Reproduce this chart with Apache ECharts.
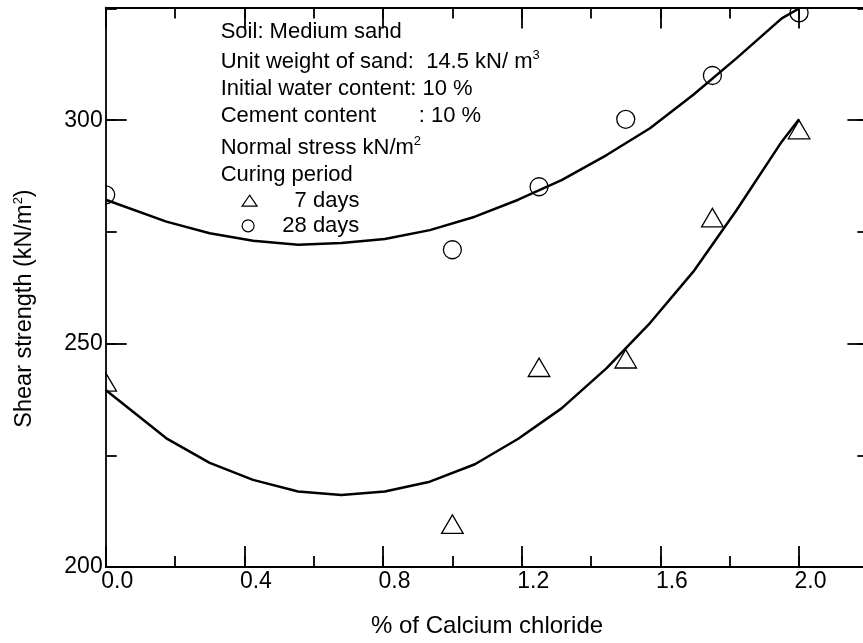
<!DOCTYPE html>
<html>
<head>
<meta charset="utf-8">
<script src="https://cdn.jsdelivr.net/npm/echarts@6/dist/echarts.min.js"></script>
<style>
  html, body { margin: 0; padding: 0; background: #fff; }
  #chart { width: 863px; height: 643px; }
</style>
</head>
<body>
<div id="chart"></div>
<script>
// Measured points: % calcium chloride vs shear strength (kN/m2)
const calciumChloride = [0, 1.0, 1.25, 1.5, 1.75, 2.0];
const strength7Days  = [241.4, 209.6, 244.7, 246.6, 278.2, 297.9];
const strength28Days = [283.3, 271.0, 285.1, 300.2, 310.0, 324.0];

// Fitted trend curves, sampled along the x axis
const fitX       = [0, 0.175, 0.3, 0.425, 0.555, 0.68, 0.805, 0.935, 1.065, 1.19, 1.315, 1.445, 1.57, 1.695, 1.82, 1.95, 2.0];
const fit7Days   = [239.6, 228.8, 223.3, 219.5, 216.9, 216.1, 216.9, 219.1, 223.0, 228.7, 235.5, 244.5, 254.6, 266.1, 279.9, 295.2, 300.2];
const fit28Days  = [282.2, 277.3, 274.7, 273.0, 272.1, 272.5, 273.4, 275.4, 278.4, 282.2, 286.6, 292.2, 298.2, 305.7, 313.9, 322.8, 325.0];

// Tick labels
const xTickLabels = ['0.0', '0.4', '0.8', '1.2', '1.6', '2.0'];
const yTickLabels = ['200', '250', '300'];

// Test conditions note
const noteLines = [
  'Soil: Medium sand',
  'Unit weight of sand:  14.5 kN/ m{sup|3}',
  'Initial water content: 10 %',
  'Cement content       : 10 %',
  'Normal stress kN/m{sup|2}',
  'Curing period'
];

const FONT = 'Liberation Sans, Arial, Helvetica, sans-serif';
const X_MIN = 0, X_MAX = 2.2, Y_MIN = 200, Y_MAX = 325.2;

const axisColor = '#000';
const majorTick = { show: true, inside: true, length: 21, lineStyle: { color: axisColor, width: 1.8 } };
const minorTick = { show: true, inside: true, length: 11, lineStyle: { color: axisColor, width: 1.8 } };
const lineOn = { show: true, onZero: false, lineStyle: { color: axisColor, width: 1.8 } };
const lineOff = { show: false, onZero: false };

function xAx(position, interval, tick, line, label, extra) {
  return Object.assign({
    type: 'value', position, min: X_MIN, max: X_MAX, interval,
    axisLine: line, axisTick: tick, splitLine: { show: false },
    axisLabel: label || { show: false }
  }, extra || {});
}
function yAx(position, interval, tick, line, label, extra) {
  return Object.assign({
    type: 'value', position, min: Y_MIN, max: Y_MAX, interval,
    axisLine: line, axisTick: tick, splitLine: { show: false },
    axisLabel: label || { show: false }
  }, extra || {});
}

const xLabel = {
  show: true, color: '#000', fontSize: 23, fontFamily: FONT, margin: 3,
  padding: [0, 0, 0, 23],
  formatter: v => { const s = v.toFixed(1); return xTickLabels.includes(s) ? s : ''; }
};
const yLabel = {
  show: true, color: '#000', fontSize: 23, fontFamily: FONT, margin: 3,
  padding: [0, 0, 5, 0],
  formatter: v => { const s = String(v); return yTickLabels.includes(s) ? s : ''; }
};

function triangleItem(params, api) {
  const p = api.coord([api.value(0), api.value(1)]);
  return {
    type: 'polygon',
    shape: { points: [[p[0], p[1] - 9.2], [p[0] - 10.8, p[1] + 9.2], [p[0] + 10.8, p[1] + 9.2]] },
    style: { fill: 'none', stroke: '#000', lineWidth: 1.3 }
  };
}
function circleItem(params, api) {
  const p = api.coord([api.value(0), api.value(1)]);
  return {
    type: 'circle',
    shape: { cx: p[0], cy: p[1], r: 9 },
    style: { fill: 'none', stroke: '#000', lineWidth: 1.3 }
  };
}

const noteY = [32, 61.5, 88.5, 115.5, 148, 174.5];
const noteGraphics = noteLines.map((t, i) => ({
  type: 'text', x: 220.7, y: noteY[i], silent: true,
  style: {
    text: t, fill: '#000', fontSize: 22, fontFamily: FONT, lineHeight: 26,
    align: 'left', verticalAlign: 'middle',
    rich: { sup: { fontSize: 13, fontFamily: FONT, lineHeight: 13, verticalAlign: 'top', fill: '#000' } }
  }
}));

const legendText = (pad) => ({ color: '#000', fontSize: 22, fontFamily: FONT, padding: [0, 0, 0, pad] });
const legendItemStyle = { color: 'transparent', borderColor: '#000', borderWidth: 1.2 };

const chart = echarts.init(document.getElementById('chart'), null, { renderer: 'canvas' });
chart.setOption({
  backgroundColor: '#fff',
  animation: false,
  grid: { left: 105.7, top: 7.6, width: 762.7, height: 559.4, containLabel: false, outerBoundsMode: 'none' },
  xAxis: [
    xAx('bottom', 0.4, majorTick, lineOn, xLabel, {
      name: '% of Calcium chloride', nameLocation: 'middle', nameGap: 47,
      nameTextStyle: { color: '#000', fontSize: 24, fontFamily: FONT }
    }),
    xAx('bottom', 0.2, minorTick, lineOff),
    xAx('top', 0.4, majorTick, lineOn),
    xAx('top', 0.2, minorTick, lineOff)
  ],
  yAxis: [
    yAx('left', 50, majorTick, lineOn, yLabel),
    yAx('left', 25, minorTick, lineOff),
    yAx('right', 50, majorTick, lineOn),
    yAx('right', 25, minorTick, lineOff)
  ],
  legend: [
    {
      data: [{ name: '7 days', icon: 'triangle' }],
      left: 241.5, top: 189.7, padding: 0, orient: 'vertical',
      itemWidth: 15, itemHeight: 11, selectedMode: false,
      itemStyle: legendItemStyle, textStyle: legendText(32.5)
    },
    {
      data: [{ name: '28 days', icon: 'circle' }],
      left: 241.5, top: 214.8, padding: 0, orient: 'vertical',
      itemWidth: 12, itemHeight: 12, selectedMode: false,
      itemStyle: legendItemStyle, textStyle: legendText(23.2)
    }
  ],
  graphic: noteGraphics.concat([
    {
      type: 'text', x: 25, y: 308.5, rotation: Math.PI / 2, silent: true,
      style: {
        text: '{a|Shear strength (kN/m}{s|2}{a|)}',
        align: 'center', verticalAlign: 'middle', fill: '#000',
        rich: {
          a: { fontSize: 23.5, fontFamily: FONT, lineHeight: 27, fill: '#000' },
          s: { fontSize: 13, fontFamily: FONT, lineHeight: 13, verticalAlign: 'top', fill: '#000' }
        }
      }
    }
  ]),
  series: [
    {
      name: 'fit 7 days', type: 'line', xAxisIndex: 0, yAxisIndex: 0,
      data: fitX.map((x, i) => [x, fit7Days[i]]),
      showSymbol: false, symbol: 'none', smooth: false, silent: true,
      lineStyle: { color: '#000', width: 2.5 }, z: 2
    },
    {
      name: 'fit 28 days', type: 'line', xAxisIndex: 0, yAxisIndex: 0,
      data: fitX.map((x, i) => [x, fit28Days[i]]),
      showSymbol: false, symbol: 'none', smooth: false, silent: true,
      lineStyle: { color: '#000', width: 2.5 }, z: 2
    },
    {
      name: '7 days', type: 'custom', xAxisIndex: 0, yAxisIndex: 0, clip: true,
      data: calciumChloride.map((x, i) => [x, strength7Days[i]]),
      renderItem: triangleItem, itemStyle: { color: '#000' }, z: 3
    },
    {
      name: '28 days', type: 'custom', xAxisIndex: 0, yAxisIndex: 0, clip: true,
      data: calciumChloride.map((x, i) => [x, strength28Days[i]]),
      renderItem: circleItem, itemStyle: { color: '#000' }, z: 3
    }
  ]
});
</script>
</body>
</html>
